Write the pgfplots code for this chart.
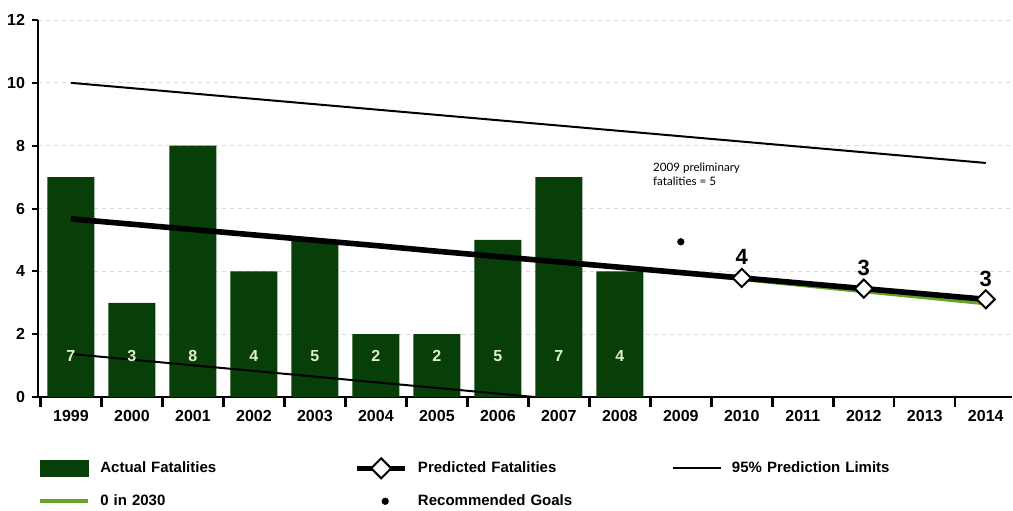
\documentclass[border=0pt]{standalone}
\usepackage{fontspec}
\setmainfont{Liberation Sans}
\newfontfamily\notefont{Lato}
\usepackage{pgfplots}
\pgfplotsset{compat=1.18}
\definecolor{bargreen}{RGB}{8,62,8}
\definecolor{linegreen}{RGB}{100,165,40}
\definecolor{barlabel}{RGB}{225,240,200}
\begin{document}
\begin{tikzpicture}
\useasboundingbox (-19pt,-56.5pt) rectangle (487.5pt,198.5pt);
\begin{axis}[
  at={(0pt,0pt)}, anchor=south west,
  scale only axis, width=487pt, height=188.5pt,
  xmin=-0.54, xmax=15.43, ymin=0, ymax=12,
  axis x line*=bottom, axis y line*=left,
  axis line style={-, line width=1.2pt},
  xtick={0,1,...,15},
  xticklabels={1999,2000,2001,2002,2003,2004,2005,2006,2007,2008,2009,2010,2011,2012,2013,2014},
  minor xtick={-0.5,0.5,...,14.5},
  major x tick style={draw=none},
  minor x tick style={black, line width=1.2pt},
  minor tick length=5pt,
  major tick length=3pt,
  ytick={0,2,...,12},
  major y tick style={black, line width=1pt},
  tick align=outside,
  ymajorgrids,
  grid style={gray!30, dash pattern=on 2pt off 2pt, line width=0.5pt},
  ticklabel style={font=\bfseries\fontsize{8}{9}\selectfont},
  /pgf/number format/assume math mode=true,
  legend columns=3,
  legend cell align=left,
  legend style={at={(0,-0.159)}, anchor=north west, draw=none, fill=none,
    inner sep=0pt, row sep=5.5pt, column sep=0pt,
    font=\bfseries\fontsize{7.5}{9}\selectfont,
    nodes={inner xsep=5pt, inner ysep=2pt, text width=122pt, anchor=west}},
]
% bars
\addplot[ybar, bar width=0.77, fill=bargreen, draw=none, forget plot] coordinates {
  (0,7) (1,3) (2,8) (3,4) (4,5) (5,2) (6,2) (7,5) (8,7) (9,4)};
% lower 95% limit
\addplot[black, line width=1pt, forget plot] coordinates {(0,1.37) (7.6,0)};
% bar labels
\addplot[draw=none, forget plot, nodes near coords, point meta=explicit symbolic,
  every node near coord/.append style={anchor=center, text=barlabel, font=\bfseries\fontsize{8}{9}\selectfont}]
  coordinates {(0,1.3)[7] (1,1.3)[3] (2,1.3)[8] (3,1.3)[4] (4,1.3)[5] (5,1.3)[2] (6,1.3)[2] (7,1.3)[5] (8,1.3)[7] (9,1.3)[4]};
% upper 95% limit
\addplot[black, line width=1pt, forget plot] coordinates {(0,10.0) (15,7.45)};
% 0 in 2030
\addplot[linegreen, line width=2pt, forget plot] coordinates {(9,4.14) (15,2.98)};
% predicted
\addplot[black, line width=2.8pt, forget plot] coordinates {
  (0,5.67) (1,5.50) (2,5.33) (3,5.16) (4,4.99) (5,4.82) (6,4.64) (7,4.47) (8,4.30)
  (9,4.13) (10,3.96) (11,3.79) (12,3.62) (13,3.45) (14,3.28) (15,3.11)};
\addplot[only marks, forget plot, mark=square*, mark size=3.2pt,
  mark options={rotate=45, fill=white, draw=black, line width=1pt},
  nodes near coords, point meta=explicit symbolic,
  every node near coord/.append style={font=\bfseries\fontsize{11}{12}\selectfont, anchor=south, inner sep=0pt, yshift=6pt}]
  coordinates {(11,3.79)[4] (13,3.45)[3] (15,3.11)[3]};
% recommended goal
\addplot[only marks, forget plot, mark=*, mark size=1.6pt, black] coordinates {(10,4.94)};
\node[anchor=north west, inner sep=0pt, align=left, font=\notefont\fontsize{5.8}{7}\selectfont]
  at (axis cs:9.54,7.45) {2009 preliminary\\fatalities = 5};
% legend
\addlegendimage{legend image code/.code={\fill[bargreen] (0pt,-4pt) rectangle (24pt,4pt);}}
\addlegendentry{Actual Fatalities}
\addlegendimage{legend image code/.code={\draw[line width=2.8pt] (0pt,0pt)--(24pt,0pt);
  \draw[line width=1pt, fill=white] (12pt,-5pt)--(17pt,0pt)--(12pt,5pt)--(7pt,0pt)--cycle;}}
\addlegendentry{Predicted Fatalities}
\addlegendimage{legend image code/.code={\draw[line width=1pt] (0pt,0pt)--(24pt,0pt);}}
\addlegendentry{95\% Prediction Limits}
\addlegendimage{legend image code/.code={\draw[linegreen, line width=2pt] (0pt,0pt)--(24pt,0pt);}}
\addlegendentry{0 in 2030}
\addlegendimage{legend image code/.code={\path[draw=none] (0pt,0pt)--(24pt,0pt); \fill[black] (14pt,0pt) circle (1.6pt);}}
\addlegendentry{Recommended Goals}
\end{axis}
\end{tikzpicture}
\end{document}
